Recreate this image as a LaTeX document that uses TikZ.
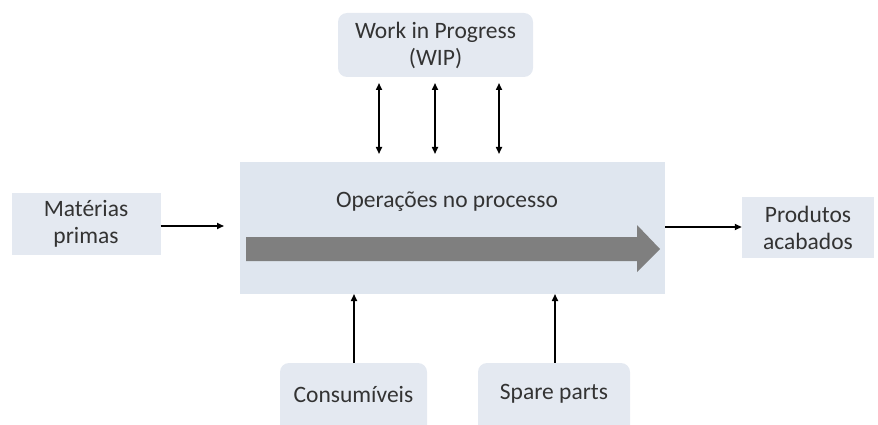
\documentclass[tikz,border=0pt]{standalone}
\usepackage{fontspec}
\setmainfont{Carlito}
\usetikzlibrary{arrows.meta,shapes.arrows}
\definecolor{boxfill}{HTML}{E4E9F1}
\definecolor{mainfill}{HTML}{DFE6EF}
\definecolor{txt}{HTML}{333333}
\definecolor{flow}{HTML}{7F7F7F}
\begin{document}
\begin{tikzpicture}[x=1pt,y=-1pt,
  lbl/.style={text=txt,font=\fontsize{23.5}{27}\selectfont,align=center},
  sidebox/.style={fill=boxfill,draw=none},
  roundbox/.style={fill=boxfill,draw=none,rounded corners=9pt},
  link/.style={line width=1.6pt,-{Triangle[length=7pt,width=6pt]}},
  dlink/.style={line width=1.6pt,{Triangle[length=7pt,width=6pt]}-{Triangle[length=7pt,width=6pt]}}]
\useasboundingbox (0,0) rectangle (878,425);
% main process block
\node[fill=mainfill,minimum width=425pt,minimum height=132pt,inner sep=0pt] (main) at (452.5,228) {};
\node[lbl] (ops) at (447,202) {Operações no processo};
% flow arrow through the process
\fill[flow] (246,237) -- (637,237) -- (637,225) -- (660,249) -- (637,272) -- (637,261) -- (246,261) -- cycle;
% surrounding boxes
\node[roundbox,minimum width=195pt,minimum height=64pt,inner sep=0pt] (wip) at (435.5,45) {};
\node[lbl] at (wip) {Work in Progress\\(WIP)};
\node[sidebox,minimum width=149pt,minimum height=62pt,inner sep=0pt] (mat) at (86,224) {};
\node[lbl] at (mat) {Matérias\\primas};
\node[sidebox,minimum width=132pt,minimum height=61pt,inner sep=0pt] (prod) at (808,227.5) {};
\node[lbl] at (prod) {Produtos\\acabados};
\node[roundbox,minimum width=147pt,minimum height=80pt,inner sep=0pt] (cons) at (353.5,403) {};
\node[lbl] at (353.5,394) {Consumíveis};
\node[roundbox,minimum width=152pt,minimum height=80pt,inner sep=0pt] (spare) at (554,403) {};
\node[lbl] at (554,394) {Spare parts};
% connectors
\coordinate (wa) at (379,83); \coordinate (wb) at (379,154);
\coordinate (wc) at (435,83); \coordinate (wd) at (435,154);
\coordinate (we) at (499,83); \coordinate (wf) at (499,154);
\draw[dlink] (wa) -- (wb);
\draw[dlink] (wc) -- (wd);
\draw[dlink] (we) -- (wf);
\draw[link] (mat.east) ++(0,2) -- (224,226);
\draw[link] (main.east |- 0,227) -- (prod.west |- 0,227);
\draw[link] (cons.north -| 354,0) -- (354,294);
\draw[link] (spare.north -| 555,0) -- (555,294);
\end{tikzpicture}
\end{document}
